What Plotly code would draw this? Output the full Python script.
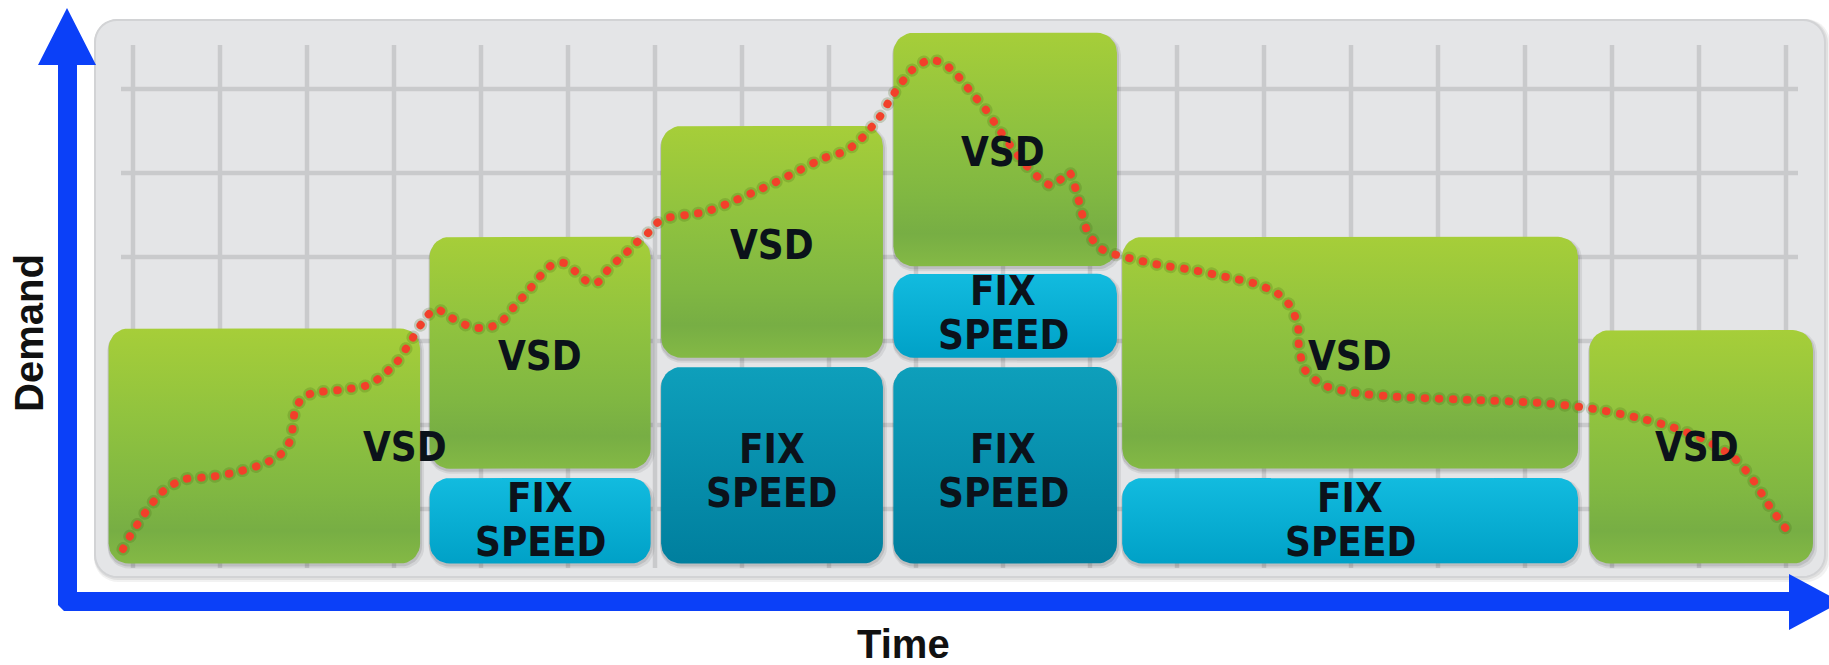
import numpy as np
import plotly.graph_objects as go

W, H = 1829, 665

# ---------------- data ----------------
# Operating blocks (time span, demand span, drive type)
block_kind = ["vsd", "vsd", "fix", "vsd", "fix_dark", "vsd", "fix", "fix_dark", "vsd", "fix", "vsd"]
block_t0 = [0.72, 4.41, 4.41, 7.07, 7.07, 9.74, 9.74, 9.74, 12.37, 12.37, 17.74]
block_t1 = [4.30, 6.95, 6.95, 9.62, 9.62, 12.31, 12.31, 12.31, 17.61, 17.61, 20.31]
block_d0 = [0.35, 1.48, 0.35, 2.80, 0.35, 3.89, 2.80, 0.35, 1.48, 0.35, 0.35]
block_d1 = [3.15, 4.24, 1.37, 5.56, 2.69, 6.67, 3.80, 2.69, 4.24, 1.37, 3.13]

# Label anchor of each block
label_t = [4.13, 5.68, 5.68, 8.34, 8.34, 11.00, 11.00, 11.00, 14.99, 14.99, 18.98]
label_d = [1.74, 2.82, 0.87, 4.14, 1.45, 5.25, 3.33, 1.45, 2.82, 0.87, 1.74]

# Demand profile over time
demand_t = [0.885, 0.966, 1.138, 1.310, 1.448, 1.598, 1.885, 2.195, 2.494, 2.690,
            2.816, 2.839, 2.862, 2.943, 3.069, 3.379, 3.667, 3.816, 4.034, 4.207,
            4.379, 4.494, 4.621, 4.885, 5.057, 5.218, 5.379, 5.552, 5.713, 5.816,
            5.954, 6.092, 6.230, 6.345, 6.483, 6.644, 6.782, 6.920, 7.023, 7.138,
            7.356, 7.575, 7.851, 8.115, 8.391, 8.667, 8.943, 9.161, 9.322, 9.460,
            9.575, 9.736, 9.954, 10.149, 10.310, 10.471, 10.632, 10.805, 10.943, 11.080,
            11.241, 11.402, 11.540, 11.655, 11.759, 11.839, 11.897, 11.977, 12.115, 12.230,
            12.448, 12.805, 13.184, 13.563, 13.874, 14.149, 14.310, 14.391, 14.402, 14.471,
            14.678, 15.057, 15.586, 16.391, 17.195, 17.724, 18.264, 18.690, 19.069, 19.391,
            19.598, 19.816, 20.080]
demand_d = [0.524, 0.679, 0.952, 1.179, 1.286, 1.357, 1.381, 1.440, 1.536, 1.643,
            1.833, 2.012, 2.167, 2.321, 2.381, 2.417, 2.464, 2.548, 2.750, 3.024,
            3.298, 3.381, 3.298, 3.167, 3.155, 3.214, 3.405, 3.607, 3.810, 3.905,
            3.929, 3.821, 3.702, 3.702, 3.881, 4.024, 4.167, 4.286, 4.405, 4.464,
            4.500, 4.536, 4.643, 4.762, 4.893, 5.036, 5.179, 5.250, 5.357, 5.512,
            5.655, 5.929, 6.226, 6.345, 6.310, 6.167, 5.964, 5.750, 5.536, 5.333,
            5.119, 4.952, 4.857, 4.917, 5.012, 4.798, 4.560, 4.286, 4.107, 4.048,
            3.988, 3.905, 3.845, 3.762, 3.690, 3.571, 3.405, 3.167, 2.929, 2.655,
            2.476, 2.381, 2.333, 2.298, 2.262, 2.202, 2.095, 1.976, 1.821, 1.619,
            1.381, 1.024, 0.655]

grid_t = list(range(1, 21))
grid_d = list(range(1, 7))

# ---------------- scales ----------------
PX_T, PX_D = 87.0, 84.0          # pixels per unit
T0_PX, D0_PY = 46.0, 593.0       # pixel position of t=0 / d=0
x_range = [-T0_PX / PX_T, (W - T0_PX) / PX_T]
y_range = [-(H - D0_PY) / PX_D, D0_PY / PX_D]


def tx(px):
    return (px - T0_PX) / PX_T


def dy(py):
    return (D0_PY - py) / PX_D


def rounded(t0, t1, d0, d1, r=20, n=10):
    rt, rd = r / PX_T, r / PX_D
    xs, ys = [], []
    corners = [(t1 - rt, d1 - rd, 0), (t0 + rt, d1 - rd, 90),
               (t0 + rt, d0 + rd, 180), (t1 - rt, d0 + rd, 270)]
    for cx, cy, a0 in corners:
        for a in np.linspace(a0, a0 + 90, n):
            xs.append(cx + rt * np.cos(np.radians(a)))
            ys.append(cy + rd * np.sin(np.radians(a)))
    xs.append(xs[0])
    ys.append(ys[0])
    return xs, ys


def path_of(xs, ys):
    pts = [f"{x:.4f},{y:.4f}" for x, y in zip(xs, ys)]
    return "M " + " L ".join(pts) + " Z"


STYLE = {
    "vsd": [[0, "#84b945"], [0.14, "#77ae44"], [0.3, "#80b742"], [0.6, "#8fc23f"], [1, "#a6ce39"]],
    "fix": [[0, "#00a1c7"], [1, "#12bbdf"]],
    "fix_dark": [[0, "#007f9e"], [1, "#0e9fbb"]],
}
TEXT_FONT = dict(family="DejaVu Sans Condensed, Roboto, Liberation Sans", size=40,
                 color="#0b121a", weight="bold")
LINE_GAP = 22

fig = go.Figure()
shapes = []

# background panel with soft edge
px0, px1, py0, py1 = 95, 1825, 20, 577
for off, alpha in [(5, 0.05), (3, 0.07)]:
    xs, ys = rounded(tx(px0 - 1), tx(px1 + off), dy(py1 + off), dy(py0 - 1), r=24)
    shapes.append(dict(type="path", path=path_of(xs, ys), xref="x", yref="y",
                       fillcolor=f"rgba(0,0,0,{alpha})", line=dict(width=0), layer="below"))
xs, ys = rounded(tx(px0), tx(px1), dy(py1), dy(py0), r=22)
shapes.append(dict(type="path", path=path_of(xs, ys), xref="x", yref="y",
                   fillcolor="#e4e5e7", line=dict(color="#d2d3d5", width=2), layer="below"))

# grid
GRID = dict(color="#c9cacc", width=4.5)
for t in grid_t:
    shapes.append(dict(type="line", xref="x", yref="y", x0=t, x1=t, y0=dy(568), y1=dy(45),
                       line=GRID, layer="below"))
for d in grid_d:
    shapes.append(dict(type="line", xref="x", yref="y", x0=tx(121), x1=tx(1798), y0=d, y1=d,
                       line=GRID, layer="below"))

# block shadows and blocks
for t0, t1, d0, d1 in zip(block_t0, block_t1, block_d0, block_d1):
    for ox, oy, alpha in [(4, 5, 0.07), (2, 3, 0.10)]:
        xs, ys = rounded(t0 - 1 / PX_T, t1 + ox / PX_T, d0 - oy / PX_D, d1 - 1 / PX_D, r=21)
        fig.add_trace(go.Scatter(x=xs, y=ys, mode="lines", fill="toself",
                                 fillcolor=f"rgba(0,0,0,{alpha})", line=dict(width=0),
                                 hoverinfo="skip", showlegend=False))

for kind, t0, t1, d0, d1 in zip(block_kind, block_t0, block_t1, block_d0, block_d1):
    xs, ys = rounded(t0, t1, d0, d1, r=20)
    fig.add_trace(go.Scatter(x=xs, y=ys, mode="lines", fill="toself",
                             fillgradient=dict(type="vertical", colorscale=STYLE[kind]),
                             line=dict(width=0), hoverinfo="skip", showlegend=False))

# demand profile (dotted)
fig.add_trace(go.Scatter(x=demand_t, y=demand_d, mode="lines",
                         line=dict(color="rgba(70,100,20,0.22)", width=13, dash="0.5px,13.5px",
                                   shape="spline", smoothing=0.7),
                         hoverinfo="skip", showlegend=False))
fig.add_trace(go.Scatter(x=demand_t, y=demand_d, mode="lines",
                         line=dict(color="#f2402a", width=8, dash="0.5px,13.5px",
                                   shape="spline", smoothing=0.7),
                         hoverinfo="skip", showlegend=False))

# block labels
annotations = []
for kind, t, d in zip(block_kind, label_t, label_d):
    if kind == "vsd":
        annotations.append(dict(x=t, y=d, xref="x", yref="y", text="VSD", showarrow=False,
                                font=TEXT_FONT, xanchor="center", yanchor="middle"))
    else:
        annotations.append(dict(x=t, y=d, xref="x", yref="y", text="FIX", showarrow=False,
                                font=TEXT_FONT, xanchor="center", yanchor="middle",
                                yshift=LINE_GAP))
        annotations.append(dict(x=t, y=d, xref="x", yref="y", text="SPEED", showarrow=False,
                                font=TEXT_FONT, xanchor="center", yanchor="middle",
                                yshift=-LINE_GAP))

# axis arrows
BLUE = "#0b40f8"
arrow_px = [(67, 8), (96, 65), (77, 65), (77, 592), (1789, 592), (1789, 574), (1841, 602),
            (1789, 630), (1789, 611), (64, 611), (58, 605), (58, 65), (38, 65)]
shapes.append(dict(type="path", xref="x", yref="y", fillcolor=BLUE, line=dict(width=0),
                   path=path_of([tx(p[0]) for p in arrow_px], [dy(p[1]) for p in arrow_px]),
                   layer="above"))

AXIS_FONT = dict(family="Liberation Sans", size=40, color="#111111", weight="bold")
annotations.append(dict(x=29 / W, y=1 - 333 / H, xref="paper", yref="paper", text="Demand",
                        textangle=-90, showarrow=False, font=AXIS_FONT,
                        xanchor="center", yanchor="middle"))
annotations.append(dict(x=903 / W, y=1 - 644 / H, xref="paper", yref="paper", text="Time",
                        showarrow=False, font=AXIS_FONT, xanchor="center", yanchor="middle"))

fig.update_layout(
    width=W, height=H, margin=dict(l=0, r=0, t=0, b=0),
    paper_bgcolor="white", plot_bgcolor="white",
    xaxis=dict(range=x_range, visible=False, fixedrange=True),
    yaxis=dict(range=y_range, visible=False, fixedrange=True),
    shapes=shapes, annotations=annotations, showlegend=False,
)

round_dots = ("var s=document.createElement('style');"
              "s.innerHTML='.scatterlayer .js-line{stroke-linecap:round;}';"
              "document.head.appendChild(s);")
fig.write_html("out.html", post_script=round_dots, config={"displayModeBar": False})
